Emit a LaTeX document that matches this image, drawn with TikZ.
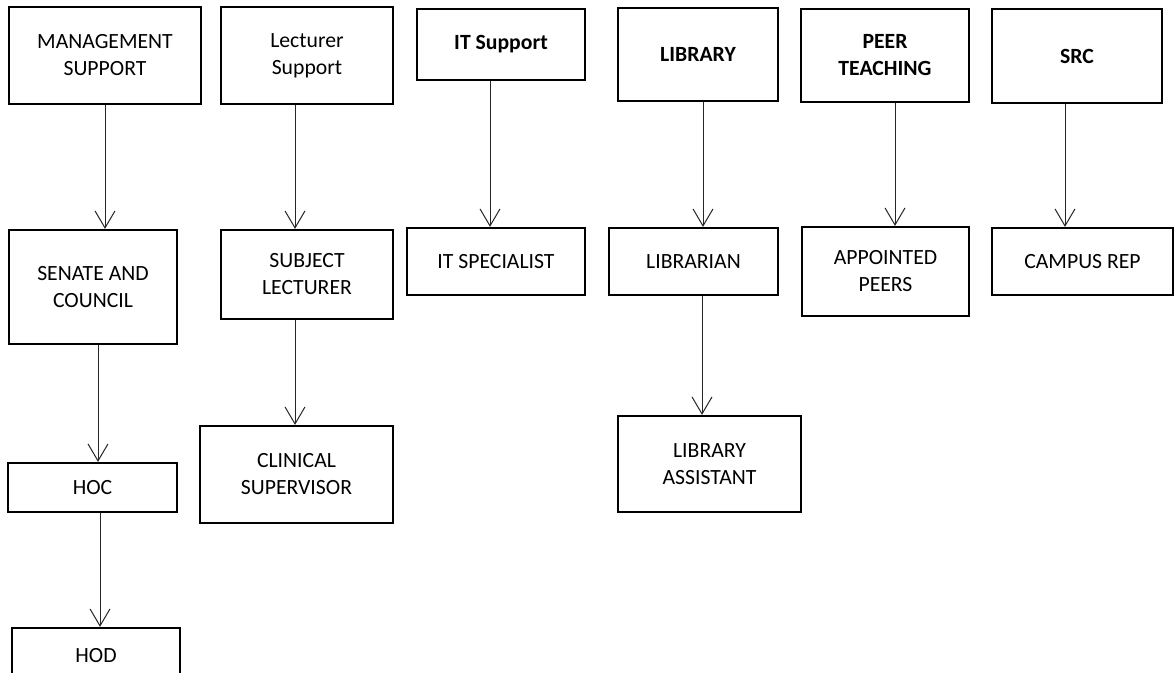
\documentclass[tikz,border=0pt]{standalone}
\usepackage{fontspec}
\setmainfont{Carlito}
\usetikzlibrary{arrows.meta}
\tikzset{
  box/.style={draw=black, line width=1.1pt, inner sep=0pt, align=center, anchor=center,
    font=\fontsize{10.85pt}{13.5pt}\selectfont},
  boldbox/.style={box, font=\fontsize{10.85pt}{13.5pt}\selectfont\bfseries},
  arr/.style={draw=black!85, line width=0.5pt, -{Straight Barb[length=8.5pt,width=10pt]}}
}
% #1 style, #2 name, #3 x1, #4 y1, #5 x2, #6 y2, #7 text
\newcommand\mybx[7]{%
  \node[#1, minimum width={(#5-#3)*0.5pt}, minimum height={(#6-#4)*0.5pt}]
    (#2) at ({(#3+#5)/2},{(#4+#6)/2}) {#7};}
\begin{document}
\begin{tikzpicture}[x=0.5pt,y=-0.5pt]
\clip (0,0) rectangle (1175,673);
\fill[white] (0,0) rectangle (1175,673);
% top row
\mybx{box}{mgmt}{9}{7}{201}{104}{MANAGEMENT\\SUPPORT}
\mybx{box}{lect}{221}{7}{393}{104}{Lecturer\\Support}
\mybx{boldbox}{its}{417}{9}{585}{80}{IT Support}
\mybx{boldbox}{lib}{618}{8}{778}{101}{LIBRARY}
\mybx{boldbox}{peer}{801}{9}{969}{102}{PEER\\TEACHING}
\mybx{boldbox}{src}{992}{9}{1162}{103}{SRC}
% second row
\mybx{box}{senate}{9}{230}{177}{344}{SENATE AND\\COUNCIL}
\mybx{box}{subj}{221}{230}{393}{319}{SUBJECT\\LECTURER}
\mybx{box}{itsp}{407}{228}{585}{295}{IT SPECIALIST}
\mybx{box}{librn}{609}{228}{778}{295}{LIBRARIAN}
\mybx{box}{peers}{802}{227}{969}{316}{APPOINTED\\PEERS}
\mybx{box}{camp}{992}{228}{1173}{295}{CAMPUS REP}
% lower rows
\mybx{box}{hoc}{8}{463}{177}{512}{HOC}
\mybx{box}{clin}{200}{426}{393}{523}{CLINICAL\\SUPERVISOR}
\mybx{box}{libas}{618}{416}{801}{512}{LIBRARY\\ASSISTANT}
\mybx{box}{hod}{12}{628}{180}{684}{HOD}
% arrow x positions
\coordinate (x1) at (105,0);
\coordinate (x2) at (98,0);
\coordinate (x3) at (100,0);
\coordinate (x4) at (295,0);
\coordinate (x5) at (490,0);
\coordinate (x6) at (703,0);
\coordinate (x7) at (702,0);
\coordinate (x8) at (895,0);
\coordinate (x9) at (1065,0);
% arrows
\draw[arr] (mgmt.south -| x1) -- (senate.north -| x1);
\draw[arr] (senate.south -| x2) -- (hoc.north -| x2);
\draw[arr] (hoc.south -| x3) -- (hod.north -| x3);
\draw[arr] (lect.south -| x4) -- (subj.north -| x4);
\draw[arr] (subj.south -| x4) -- (clin.north -| x4);
\draw[arr] (its.south -| x5) -- (itsp.north -| x5);
\draw[arr] (lib.south -| x6) -- (librn.north -| x6);
\draw[arr] (librn.south -| x7) -- (libas.north -| x7);
\draw[arr] (peer.south -| x8) -- (peers.north -| x8);
\draw[arr] (src.south -| x9) -- (camp.north -| x9);
\end{tikzpicture}
\end{document}
